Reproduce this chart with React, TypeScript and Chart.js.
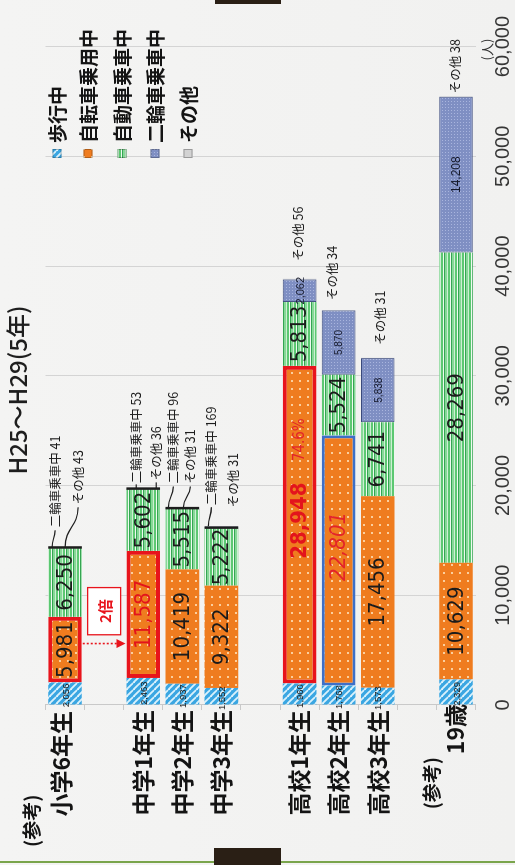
import React, { useEffect, useRef } from 'react';
import { Chart, registerables } from 'chart.js';

Chart.register(...registerables);

// ---------- data ----------
const categories = ['小学6年生', '', '中学1年生', '中学2年生', '中学3年生', '', '高校1年生', '高校2年生', '高校3年生', '', '19歳'];
const seriesNames = ['歩行中', '自転車乗用中', '自動車乗車中', '二輪車乗車中', 'その他'];
const walking = [2056, null, 2463, 1937, 1552, null, 1960, 1768, 1573, null, 2329];
const bicycle = [5981, null, 11587, 10419, 9322, null, 28948, 22801, 17456, null, 10629];
const car = [6250, null, 5602, 5515, 5222, null, 5813, 5524, 6741, null, 28269];
const motorcycle = [41, null, 53, 96, 169, null, 2062, 5870, 5838, null, 14208];
const other = [43, null, 36, 31, 31, null, 56, 34, 31, null, 38];
const xTickValues = [0, 10000, 20000, 30000, 40000, 50000, 60000];
const titleText = 'H25～H29(5年)';
const unitText = '(人)';
const refText = '(参考)';
const ratioText = '2倍';
const shareText = '74.6%';

// ---------- layout constants (original, un-rotated canvas) ----------
const W = 865;
const H = 515;
const NUM_FONT = '"Liberation Sans Narrow", "DejaVu Sans Condensed", "Liberation Sans", sans-serif';
const JP_FONT = '"Noto Sans CJK JP", "Noto Sans", sans-serif';

const fmt = (v: number) => v.toLocaleString('en-US');

function tile(w: number, h: number, draw: (g: CanvasRenderingContext2D) => void) {
  const c = document.createElement('canvas');
  c.width = w;
  c.height = h;
  const g = c.getContext('2d')!;
  draw(g);
  return c;
}

function makePatterns(ctx: CanvasRenderingContext2D) {
  const walk = tile(7, 7, (g) => {
    g.fillStyle = '#3aa6e2';
    g.fillRect(0, 0, 7, 7);
    g.strokeStyle = '#d9f1fc';
    g.lineWidth = 1.9;
    for (const k of [-7, 0, 7]) {
      g.beginPath();
      g.moveTo(k, 0);
      g.lineTo(k + 7, 7);
      g.stroke();
    }
  });
  const bike = tile(8, 8, (g) => {
    g.fillStyle = '#ef7c1f';
    g.fillRect(0, 0, 8, 8);
    g.fillStyle = '#fbcf9e';
    g.fillRect(3, 3, 2, 2);
  });
  const carP = tile(8, 7, (g) => {
    const rows = ['#5cc872', '#5cc872', '#eef9f0', '#35a553', '#86d897', '#86d897', '#cdefd3'];
    rows.forEach((c, i) => {
      g.fillStyle = c;
      g.fillRect(0, i, 8, 1);
    });
  });
  const moto = tile(3, 3, (g) => {
    g.fillStyle = '#7f8fc3';
    g.fillRect(0, 0, 3, 3);
    g.fillStyle = '#a9b5de';
    g.fillRect(1, 1, 1, 1);
  });
  return {
    walk: ctx.createPattern(walk, 'repeat')!,
    bike: ctx.createPattern(bike, 'repeat')!,
    car: ctx.createPattern(carP, 'repeat')!,
    moto: ctx.createPattern(moto, 'repeat')!,
    other: '#d3d3d3',
  };
}

export default function App() {
  const ref = useRef<HTMLCanvasElement>(null);

  useEffect(() => {
    const canvas = ref.current!;
    const ctx = canvas.getContext('2d')!;
    const P = makePatterns(ctx);
    const fills = [P.walk, P.bike, P.car, P.moto, P.other];

    const bikeBorderColors = categories.map((_, i) => (i === 7 ? '#3d6fc8' : '#e8141c'));
    const bikeBorderWidths = categories.map((_, i) => (i === 0 || i === 2 || i === 6 ? 4 : i === 7 ? 3 : 0));

    const decor = {
      id: 'decor',
      afterDatasetsDraw(chart: any) {
        const c: CanvasRenderingContext2D = chart.ctx;
        const xs = chart.scales.x;
        const ys = chart.scales.y;
        const m = [0, 1, 2, 3, 4].map((d) => chart.getDatasetMeta(d).data);
        const series = [walking, bicycle, car, motorcycle, other];
        c.save();

        // dark cap for stacks whose last segments are tiny
        [0, 2, 3, 4].forEach((i) => {
          const el = m[2][i];
          c.fillStyle = '#1d1d1d';
          c.fillRect(el.x - 0.5, el.y - el.height / 2, 2.5, el.height);
        });

        const seg = (el: any, text: string, font: string, color: string, dx = 0) => {
          c.font = font;
          c.fillStyle = color;
          c.textAlign = 'center';
          c.textBaseline = 'middle';
          c.fillText(text, (el.x + el.base) / 2 + dx, el.y + 1);
        };

        categories.forEach((_, i) => {
          if (walking[i] == null) return;
          seg(m[0][i], fmt(walking[i]!), '9.5px "Liberation Sans", sans-serif', '#1e1e1e', -2);
          let bFont = `22px ${NUM_FONT}`;
          let bColor = '#1b1b1b';
          let bdx = 0;
          if (i === 2) bColor = '#e3141c';
          if (i === 6) { bFont = `bold 22px ${NUM_FONT}`; bColor = '#e3141c'; bdx = 4; }
          if (i === 7) { bFont = `italic 22px ${NUM_FONT}`; bColor = '#e3242a'; bdx = 14; }
          seg(m[1][i], fmt(bicycle[i]!), bFont, bColor, bdx);
          seg(m[2][i], fmt(car[i]!), `22px ${NUM_FONT}`, '#1b1b1b');
          if (motorcycle[i]! > 1000) {
            const f = i === 10 ? '12px' : i === 6 ? '11px' : '10px';
            seg(m[3][i], fmt(motorcycle[i]!), `${f} "Liberation Sans", sans-serif`, '#15192b');
          }
        });

        {
          const el = m[1][6];
          c.font = `15px ${NUM_FONT}`;
          c.fillStyle = '#e3242a';
          c.textAlign = 'center';
          c.textBaseline = 'middle';
          c.fillText(shareText, el.x - 74, el.y + 1);
        }

        const notes = [
          { i: 0, s: 3, tx: 20, ty: -10, lead: [-13, 17, -10] },
          { i: 0, s: 4, tx: 43, ty: 13, lead: [0, 40, 13] },
          { i: 2, s: 3, tx: 5, ty: -7, lead: [-7, 4, -7] },
          { i: 2, s: 4, tx: 8, ty: 13, lead: [13, 6, 13] },
          { i: 3, s: 3, tx: 24, ty: -9, lead: [-14, 21, -9] },
          { i: 3, s: 4, tx: 24, ty: 8, lead: [1, 21, 8] },
          { i: 4, s: 3, tx: 21, ty: -10, lead: [-13, 19, -10] },
          { i: 4, s: 4, tx: 19, ty: 12, lead: null },
          { i: 6, s: 4, tx: 18, ty: -1, lead: null },
          { i: 7, s: 4, tx: 10, ty: -6, lead: null },
          { i: 8, s: 4, tx: 13, ty: 2, lead: null },
          { i: 10, s: 4, tx: 3, ty: -1, lead: null },
        ];
        c.font = `12.5px ${JP_FONT}`;
        c.textAlign = 'left';
        c.textBaseline = 'middle';
        notes.forEach((n) => {
          const end = m[4][n.i].x;
          const cy = m[4][n.i].y;
          c.fillStyle = '#1e1e1e';
          c.fillText(`${seriesNames[n.s]} ${series[n.s][n.i]}`, end + n.tx, cy + n.ty);
          if (n.lead) {
            const [sy, ex, ey] = n.lead;
            c.strokeStyle = '#1e1e1e';
            c.lineWidth = 1.2;
            c.beginPath();
            c.moveTo(end, cy + sy);
            const mx = end + ex * 0.5;
            c.bezierCurveTo(mx, cy + sy, mx, cy + ey, end + ex, cy + ey);
            c.stroke();
          }
        });

        const gapY = ys.getPixelForValue(1);
        const bx1 = xs.getPixelForValue(6400);
        const bx2 = xs.getPixelForValue(10700);
        c.fillStyle = '#ffffff';
        c.fillRect(bx1, gapY - 16.5, bx2 - bx1, 33);
        c.strokeStyle = '#e8141c';
        c.lineWidth = 1.3;
        c.strokeRect(bx1, gapY - 16.5, bx2 - bx1, 33);
        c.fillStyle = '#e8141c';
        c.font = `bold 15px ${JP_FONT}`;
        c.textAlign = 'center';
        c.fillText(ratioText, (bx1 + bx2) / 2, gapY + 1);

        const ax = xs.getPixelForValue(5600);
        const a0 = m[1][0].y + m[1][0].height / 2 + 1;
        const a1 = m[1][2].y - m[1][2].height / 2 - 1;
        c.setLineDash([2, 2]);
        c.lineWidth = 1.6;
        c.beginPath();
        c.moveTo(ax, a0);
        c.lineTo(ax, a1 - 8);
        c.stroke();
        c.setLineDash([]);
        c.beginPath();
        c.moveTo(ax - 4.5, a1 - 9);
        c.lineTo(ax + 4.5, a1 - 9);
        c.lineTo(ax, a1);
        c.closePath();
        c.fill();

        c.restore();
      },
      afterDraw(chart: any) {
        const c: CanvasRenderingContext2D = chart.ctx;
        const ys = chart.scales.y;
        const area = chart.chartArea;
        c.save();

        c.fillStyle = '#141414';
        c.textBaseline = 'middle';
        categories.forEach((lab, i) => {
          if (!lab) return;
          const y = ys.getPixelForValue(i);
          c.font = `bold 23px ${JP_FONT}`;
          c.textAlign = 'right';
          if (i === 0) {
            c.fillText(lab, area.left - 6, y - 4);
            c.font = `bold 19px ${JP_FONT}`;
            c.textAlign = 'left';
            c.fillText(refText, 18, y - 33);
          } else if (i === categories.length - 1) {
            c.fillText(lab, area.left + 1, y - 1);
            c.font = `bold 19px ${JP_FONT}`;
            c.fillText(refText, area.left - 52, y - 24);
          } else {
            c.fillText(lab, area.left - 5, y);
          }
        });

        c.font = `500 24px ${JP_FONT}`;
        c.textAlign = 'center';
        c.fillStyle = '#1e1e1e';
        c.fillText(titleText, 475, 18);

        c.font = `13px ${JP_FONT}`;
        c.fillStyle = '#333333';
        c.fillText(unitText, area.right - 3, area.bottom + 12);

        const ly = [57, 88, 122, 155, 188];
        seriesNames.forEach((name, k) => {
          c.fillStyle = fills[k] as any;
          c.fillRect(707, ly[k] - 4.5, 9, 9);
          c.strokeStyle = k === 4 ? '#9a9a9a' : 'rgba(0,0,0,0.25)';
          c.lineWidth = 1;
          c.strokeRect(707.5, ly[k] - 4, 8, 8);
          c.fillStyle = '#141414';
          c.font = `bold 19px ${JP_FONT}`;
          c.textAlign = 'left';
          c.fillText(name, 722, ly[k] + 1);
        });
        c.restore();
      },
    };

    const chart = new Chart(canvas, {
      type: 'bar',
      data: {
        labels: categories,
        datasets: [
          { label: seriesNames[0], data: walking, backgroundColor: P.walk, borderWidth: 0 },
          {
            label: seriesNames[1],
            data: bicycle,
            backgroundColor: P.bike,
            borderColor: bikeBorderColors,
            borderWidth: bikeBorderWidths,
            borderSkipped: false,
          },
          { label: seriesNames[2], data: car, backgroundColor: P.car, borderWidth: 0 },
          {
            label: seriesNames[3],
            data: motorcycle,
            backgroundColor: P.moto,
            borderColor: '#3a4a7c',
            borderWidth: 1,
            borderSkipped: false,
          },
          { label: seriesNames[4], data: other, backgroundColor: P.other, borderWidth: 0 },
        ],
      } as any,
      options: {
        indexAxis: 'y',
        animation: false,
        responsive: false,
        devicePixelRatio: 1,
        layout: { padding: { top: 45.5, right: 32, left: 0, bottom: 0 } },
        datasets: { bar: { categoryPercentage: 1, barPercentage: 0.86 } },
        plugins: { legend: { display: false }, tooltip: { enabled: false }, title: { display: false } },
        scales: {
          x: {
            stacked: true,
            min: 0,
            max: 60000,
            afterBuildTicks: (s: any) => {
              s.ticks = xTickValues.map((v) => ({ value: v }));
            },
            afterFit: (s: any) => {
              s.height = 39.5;
            },
            ticks: {
              stepSize: 10000,
              padding: 16,
              color: '#363636',
              font: { family: '"Liberation Sans", sans-serif', size: 20 },
              callback: (v: any) => fmt(Number(v)),
              maxRotation: 0,
            },
            grid: { color: '#d4d4d4', lineWidth: 1, drawTicks: false },
            border: { display: false },
          },
          y: {
            stacked: true,
            afterFit: (s: any) => {
              s.width = 160;
            },
            ticks: { display: false },
            grid: { drawOnChartArea: false, color: '#c9c9c9', tickLength: 5, offset: true },
            border: { display: true, color: '#c9c9c9' },
          },
        },
      } as any,
      plugins: [decor],
    });
    return () => chart.destroy();
  }, []);

  return (
    <div
      style={{
        position: 'fixed',
        left: 0,
        top: 0,
        width: 515,
        height: 865,
        overflow: 'hidden',
        background: 'linear-gradient(90deg, #f4f4f3 0%, #f1f1f0 100%)',
      }}
    >
      <div
        style={{
          position: 'absolute',
          left: 0,
          top: 0,
          width: W,
          height: H,
          transformOrigin: '0 0',
          transform: `translate(0px, ${W}px) rotate(-90deg)`,
        }}
      >
        <canvas ref={ref} width={W} height={H} style={{ display: 'block', width: W, height: H }} />
      </div>
      <div style={{ position: 'absolute', left: 0, top: 861, width: 515, height: 2, background: '#7aa54c' }} />
      <div style={{ position: 'absolute', left: 214, top: 848, width: 67, height: 17, background: '#2a1f15' }} />
      <div style={{ position: 'absolute', left: 215, top: 0, width: 66, height: 4, background: '#2a1f15' }} />
    </div>
  );
}
